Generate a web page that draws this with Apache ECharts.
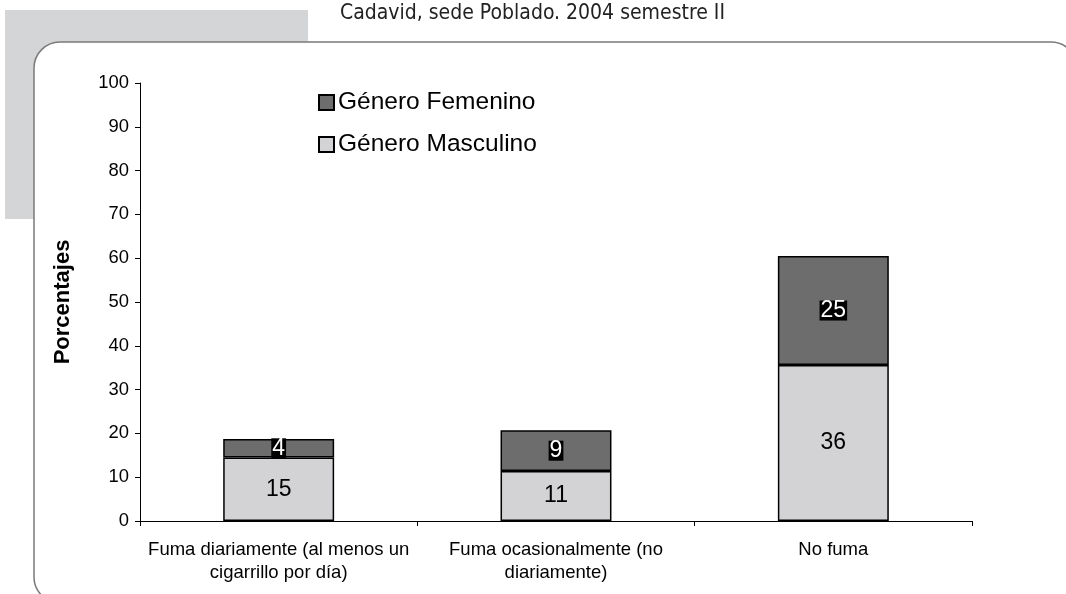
<!DOCTYPE html>
<html>
<head>
<meta charset="utf-8">
<script src="https://cdn.jsdelivr.net/npm/echarts@6/dist/echarts.min.js"></script>
<style>
  html, body { margin: 0; padding: 0; background: #fff; }
  #chart { width: 1066px; height: 594px; }
</style>
</head>
<body>
<div id="chart"></div>
<script>
// categorias y valores (porcentajes)
var categorias = [
  "Fuma diariamente (al menos un\ncigarrillo por día)",
  "Fuma ocasionalmente (no\ndiariamente)",
  "No fuma"
];
var masculino = [14.5, 11.4, 35.6];
var femenino = [4.2, 9.3, 24.9];
var ticksY = [0, 100, 10];

var chart = echarts.init(document.getElementById("chart"));

var font = "Liberation Sans, Arial, sans-serif";

chart.setOption({
  animation: false,
  backgroundColor: "#fff",
  textStyle: { fontFamily: font },
  graphic: [
    {
      type: "rect",
      z: -10,
      shape: { x: 5, y: 10, width: 303, height: 209 },
      style: { fill: "#d4d5d7" }
    },
    {
      type: "rect",
      z: -5,
      shape: { x: 34, y: 42, width: 1043, height: 561, r: 26 },
      style: { fill: "#fff", stroke: "#7a7a7a", lineWidth: 1.5 }
    },
    {
      type: "text",
      left: 340,
      top: 3,
      style: {
        text: "Cadavid, sede Poblado. 2004 semestre II",
        font: "21px 'DejaVu Sans Condensed', sans-serif",
        fill: "#222"
      }
    }
  ],
  legend: {
    orient: "vertical",
    left: 313,
    top: 85,
    itemWidth: 15,
    itemHeight: 15,
    itemGap: 17,
    icon: "rect",
    data: ["Género Femenino", "Género Masculino"],
    textStyle: { fontSize: 24.5, color: "#000", fontFamily: font, padding: [0, 0, 0, -1] }
  },
  grid: { left: 140, right: 94, top: 83, bottom: 73 },
  xAxis: {
    type: "category",
    data: categorias,
    axisLine: { lineStyle: { color: "#000", width: 1 } },
    axisTick: { show: true, length: 5, lineStyle: { color: "#000" } },
    axisLabel: {
      color: "#000",
      fontSize: 18.5,
      lineHeight: 23,
      margin: 17,
      interval: 0
    }
  },
  yAxis: {
    type: "value",
    min: ticksY[0],
    max: ticksY[1],
    interval: ticksY[2],
    name: "Porcentajes",
    nameLocation: "middle",
    nameGap: 66,
    nameTextStyle: { fontSize: 22, fontWeight: "bold", color: "#000" },
    splitLine: { show: false },
    axisLine: { show: true, lineStyle: { color: "#000", width: 1 } },
    axisTick: { show: true, length: 5, lineStyle: { color: "#000" } },
    axisLabel: { color: "#000", fontSize: 18.4, margin: 11 }
  },
  series: [
    {
      name: "Género Masculino",
      type: "bar",
      stack: "total",
      barWidth: "40%",
      data: masculino,
      itemStyle: { color: "#d3d3d5", borderColor: "#000", borderWidth: 1.5 },
      label: {
        show: true,
        position: "inside",
        color: "#000",
        fontSize: 23,
        formatter: function (p) { return Math.round(p.value); }
      }
    },
    {
      name: "Género Femenino",
      type: "bar",
      stack: "total",
      barWidth: "40%",
      data: femenino,
      itemStyle: { color: "#6d6d6d", borderColor: "#000", borderWidth: 1.5 },
      label: {
        show: true,
        position: "inside",
        color: "#fff",
        fontSize: 23,
        backgroundColor: "#000",
        padding: [-1, 1, -2, 1],
        formatter: function (p) { return Math.round(p.value); }
      }
    }
  ]
});
</script>
</body>
</html>
